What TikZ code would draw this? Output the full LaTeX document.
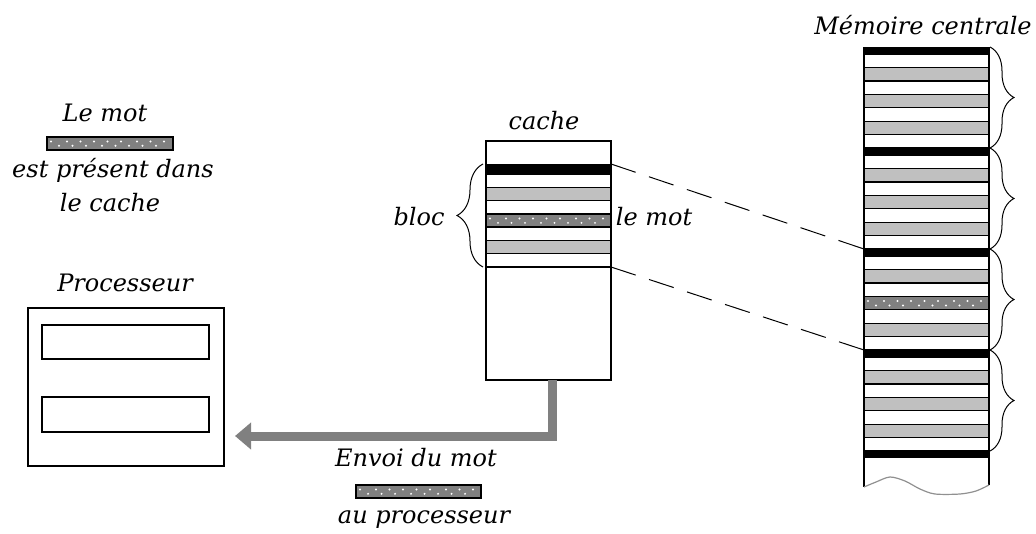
\documentclass[tikz,border=0pt]{standalone}
\usepackage{fontspec}
\setmainfont{DejaVu Serif}
\usetikzlibrary{arrows.meta,decorations.pathreplacing}
\definecolor{stripegray}{HTML}{C0C0C0}
\definecolor{wordgray}{HTML}{808080}
\definecolor{arrowgray}{HTML}{808080}
\definecolor{tornrgray}{HTML}{909090}
\newcommand{\wordbar}[4]{%
  \fill[wordgray] (#1,#2) rectangle (#3,#4);
  \pgfmathsetmacro{\wbn}{int((#3-#1-8)/7)}
  \foreach \i in {0,...,\wbn}{
    \pgfmathsetmacro{\wx}{#1+4+\i*7+mod(\i*37,5)*0.5}
    \pgfmathsetmacro{\wy}{#2+(#4-#2)*(mod(\i,2)==0 ? 0.35 : 0.68)}
    \fill[white] (\wx,\wy) circle[radius=1.1pt];
  }
  \draw[line width=1.4pt] (#1,#2) rectangle (#3,#4);
}
\begin{document}
\begin{tikzpicture}[x=1pt,y=-1pt, line width=1.3pt,
  lbl/.style={font=\fontsize{24}{28}\selectfont\itshape, inner sep=0pt},
  box/.style={draw, line width=1.3pt, inner sep=0pt, outer sep=0pt},
  link/.style={line width=1pt, dash pattern=on 26pt off 14pt},
  brc/.style={decorate, decoration={brace, amplitude=#1}, line width=1pt},
  sendarrow/.style={arrowgray, line width=9pt, -{Triangle[length=16pt,width=26pt]}}]
\useasboundingbox (0,0) rectangle (1036,533);

% ---------- Memory ----------
\foreach \b in {0,1,2,3}{
  \pgfmathsetmacro{\yz}{47+101*\b}
  \fill (864,\yz) rectangle (989,{\yz+7});
  \foreach \k in {1,3,5}{
    \fill[stripegray] (864,{\yz+7+\k*13.43}) rectangle (989,{\yz+7+(\k+1)*13.43});
  }
  \foreach \k in {0,...,7}{
    \draw (864,{\yz+7+\k*13.43}) -- (989,{\yz+7+\k*13.43});
  }
  \draw[brc=24pt] (990,\yz) -- (990,{\yz+101});
}
\wordbar{864}{296.3}{989}{309.7}
\fill (864,451) rectangle (989,458);
\draw (864,47) -- (864,487);
\draw (989,47) -- (989,485);
\draw[tornrgray, line width=1.2pt] plot[smooth] coordinates {(864,487) (876,482) (890,477) (905,481) (920,489) (935,494) (960,494) (976,491) (989,485)};
\coordinate (mA) at (864,249);
\coordinate (mB) at (864,350);

% ---------- Cache ----------
\fill (486,164) rectangle (611,174);
\foreach \k in {1,5}{
  \fill[stripegray] (486,{174+\k*13.29}) rectangle (611,{174+(\k+1)*13.29});
}
\wordbar{486}{213.9}{611}{227.1}
\foreach \k in {0,...,7}{
  \draw (486,{174+\k*13.29}) -- (611,{174+\k*13.29});
}
\node[box, minimum width=125pt, minimum height=239pt, anchor=north west] (cache) at (486,141) {};
\draw[brc=26pt] (483,267) -- (483,164);
\coordinate (cA) at (611,164);
\coordinate (cB) at (611,267);
\draw[link] (cA) -- (mA);
\draw[link] (cB) -- (mB);

% ---------- Processor ----------
\node[box, minimum width=196pt, minimum height=158pt, anchor=north west] (proc) at (28,308) {};
\draw (42,325) rectangle (209,359);
\draw (42,397) rectangle (209,432);

% ---------- Arrow ----------
\coordinate (arrowend) at (235,436);
\draw[sendarrow] ([xshift=4pt]cache.south) |- (arrowend);

% ---------- Labels ----------
\node[lbl] (lemot) at (105,113) {Le mot};
\wordbar{47}{137}{173}{150}
\node[lbl] (present) at (113,170) {est présent dans};
\node[lbl] (lecache) at (110,203) {le cache};
\node[lbl] (proclbl) at (125,283) {Processeur};
\node[lbl] (cachelbl) at (544,121) {cache};
\node[lbl] (memlbl) at (923,25) {Mémoire centrale};
\node[lbl] (bloclbl) at (419,217) {bloc};
\node[lbl] (motlbl) at (654,217) {le mot};
\node[lbl] (envoi) at (416,458) {Envoi du mot};
\wordbar{356}{485}{481}{498}
\node[lbl] (aupro) at (424,520) {au processeur};
\end{tikzpicture}
\end{document}
